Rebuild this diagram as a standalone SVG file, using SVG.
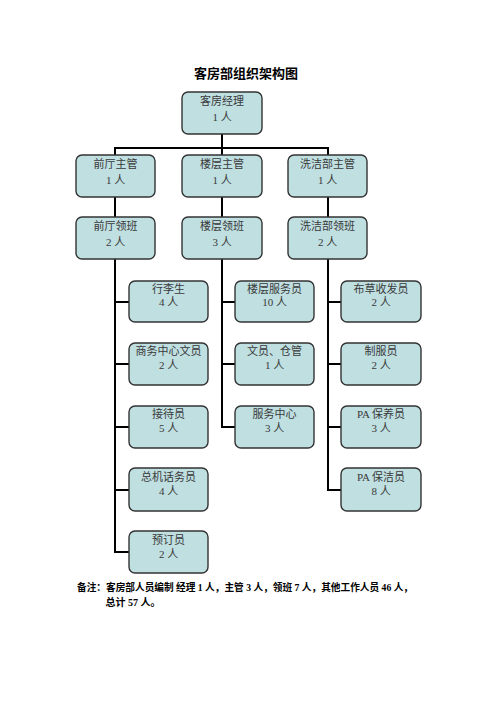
<svg xmlns="http://www.w3.org/2000/svg" width="496" height="702" viewBox="0 0 496 702">
<style>
.box{fill:#bfdfe1;stroke:#333;stroke-width:1.4}
.t{font-family:"Liberation Serif","Noto Sans CJK SC",serif;font-size:11px;fill:#3a3a3a;text-anchor:middle}
.ln{stroke:#000;stroke-width:2;fill:none}
.title{font-family:"Liberation Serif","Noto Sans CJK SC",serif;font-size:13px;font-weight:bold;text-anchor:middle;fill:#000}
.note{font-family:"Liberation Serif","Noto Sans CJK SC",serif;font-size:10px;font-weight:bold;fill:#000}
</style>
<rect width="496" height="702" fill="#fff"/>
<text class="title" x="246" y="78">客房部组织架构图</text>
<g id="connectors">
<path class="ln" d="M222 134V148M115 156V148H328V156M222 148V156"/>
<path class="ln" d="M115 197V217M222 197V217M328 197V217"/>
<path class="ln" d="M115 259V552H129M115 302H129M115 364H129M115 427H129M115 490H129"/>
<path class="ln" d="M222 259V427H235M222 302H235M222 364H235"/>
<path class="ln" d="M328 259V490H341M328 302H341M328 364H341M328 427H341"/>
</g>
<g id="n0"><rect class="box" x="182" y="92" width="80" height="42" rx="6"/><text class="t" x="222" y="104.5">客房经理</text><text class="t" x="222" y="120.5">1 人</text></g>
<g id="n1"><rect class="box" x="76" y="155" width="79" height="42" rx="6"/><text class="t" x="115.5" y="167.5">前厅主管</text><text class="t" x="115.5" y="183.5">1 人</text></g>
<g id="n2"><rect class="box" x="182" y="155" width="80" height="42" rx="6"/><text class="t" x="222" y="167.5">楼层主管</text><text class="t" x="222" y="183.5">1 人</text></g>
<g id="n3"><rect class="box" x="288" y="155" width="79" height="42" rx="6"/><text class="t" x="327.5" y="167.5">洗洁部主管</text><text class="t" x="327.5" y="183.5">1 人</text></g>
<g id="n4"><rect class="box" x="76" y="217" width="79" height="42" rx="6"/><text class="t" x="115.5" y="229.5">前厅领班</text><text class="t" x="115.5" y="245.5">2 人</text></g>
<g id="n5"><rect class="box" x="182" y="217" width="80" height="42" rx="6"/><text class="t" x="222" y="229.5">楼层领班</text><text class="t" x="222" y="245.5">3 人</text></g>
<g id="n6"><rect class="box" x="288" y="217" width="79" height="42" rx="6"/><text class="t" x="327.5" y="229.5">洗洁部领班</text><text class="t" x="327.5" y="245.5">2 人</text></g>
<g id="a1"><rect class="box" x="129" y="281" width="79" height="41" rx="6"/><text class="t" x="168.5" y="293">行李生</text><text class="t" x="168.5" y="306">4 人</text></g>
<g id="a2"><rect class="box" x="129" y="343" width="79" height="42" rx="6"/><text class="t" x="168.5" y="355">商务中心文员</text><text class="t" x="168.5" y="369">2 人</text></g>
<g id="a3"><rect class="box" x="129" y="406" width="79" height="42" rx="6"/><text class="t" x="168.5" y="418">接待员</text><text class="t" x="168.5" y="432">5 人</text></g>
<g id="a4"><rect class="box" x="129" y="468" width="79" height="43" rx="6"/><text class="t" x="168.5" y="481">总机话务员</text><text class="t" x="168.5" y="495">4 人</text></g>
<g id="a5"><rect class="box" x="129" y="531" width="79" height="42" rx="6"/><text class="t" x="168.5" y="543.5">预订员</text><text class="t" x="168.5" y="557.5">2 人</text></g>
<g id="b1"><rect class="box" x="235" y="281" width="79" height="41" rx="6"/><text class="t" x="274.5" y="293">楼层服务员</text><text class="t" x="274.5" y="306">10 人</text></g>
<g id="b2"><rect class="box" x="235" y="343" width="79" height="42" rx="6"/><text class="t" x="274.5" y="355">文员、仓管</text><text class="t" x="274.5" y="369">1 人</text></g>
<g id="b3"><rect class="box" x="235" y="406" width="79" height="42" rx="6"/><text class="t" x="274.5" y="418">服务中心</text><text class="t" x="274.5" y="432">3 人</text></g>
<g id="c1"><rect class="box" x="341" y="281" width="80" height="41" rx="6"/><text class="t" x="381" y="293">布草收发员</text><text class="t" x="381" y="306">2 人</text></g>
<g id="c2"><rect class="box" x="341" y="343" width="80" height="42" rx="6"/><text class="t" x="381" y="355">制服员</text><text class="t" x="381" y="369">2 人</text></g>
<g id="c3"><rect class="box" x="341" y="406" width="80" height="42" rx="6"/><text class="t" x="381" y="418">PA 保养员</text><text class="t" x="381" y="432">3 人</text></g>
<g id="c4"><rect class="box" x="341" y="468" width="80" height="43" rx="6"/><text class="t" x="381" y="481">PA 保洁员</text><text class="t" x="381" y="495">8 人</text></g>
<text class="note" x="77" y="590.5" textLength="336" lengthAdjust="spacingAndGlyphs">备注：客房部人员编制  经理 1 人，主管 3 人，领班 7 人，其他工作人员 46 人，</text>
<text class="note" x="105.5" y="606">总计 57 人。</text>
</svg>
